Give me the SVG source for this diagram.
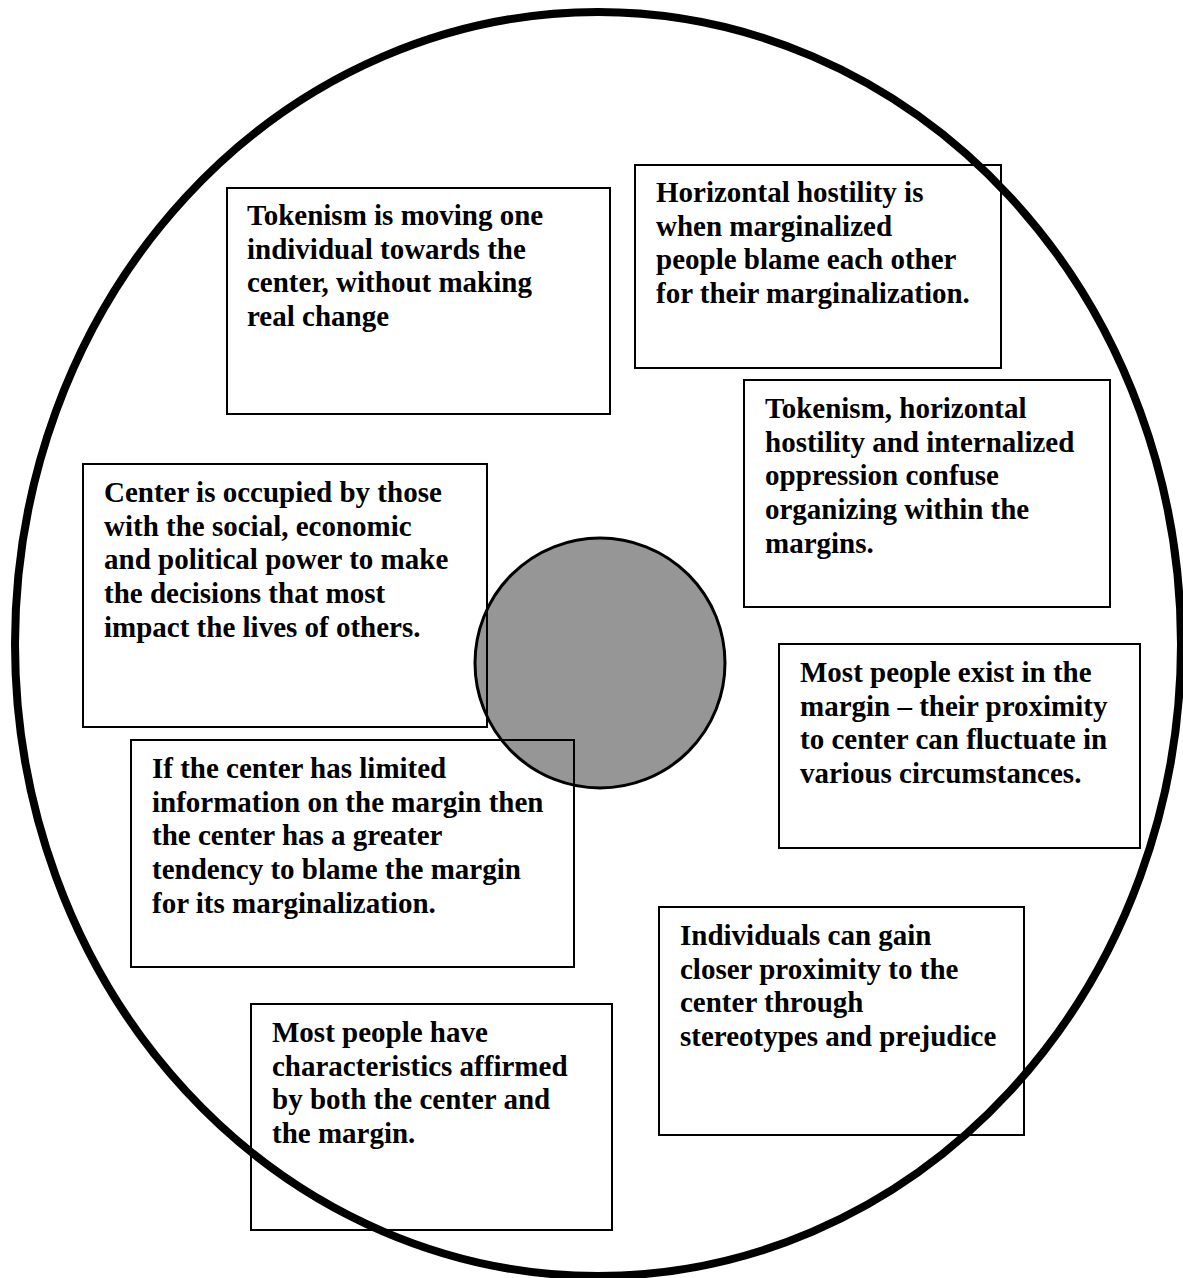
<svg xmlns="http://www.w3.org/2000/svg" width="1183" height="1278" viewBox="0 0 1183 1278">
<style>
.box{fill:none;stroke:#000;stroke-width:2}
.t{font-family:"Liberation Serif","Times New Roman",serif;font-weight:bold;font-size:29px;fill:#000}
</style>
<rect width="1183" height="1278" fill="#fff"/>
<g id="outer">
<ellipse cx="598" cy="644" rx="583" ry="632" fill="none" stroke="#000" stroke-width="8"/>
</g>
<g id="center">
<circle cx="600" cy="663" r="125" fill="#969696" stroke="#000" stroke-width="3"/>
</g>
<g id="connectors"></g>
<g id="n1">
<rect class="box" x="227" y="188" width="383" height="226"/>
<text class="t" x="247" y="225"><tspan x="247">Tokenism is moving one</tspan><tspan x="247" dy="33.7">individual towards the</tspan><tspan x="247" dy="33.7">center, without making</tspan><tspan x="247" dy="33.7">real change</tspan></text>
</g>
<g id="n2">
<rect class="box" x="635" y="165" width="366" height="203"/>
<text class="t" x="656" y="202"><tspan x="656">Horizontal hostility is</tspan><tspan x="656" dy="33.7">when marginalized</tspan><tspan x="656" dy="33.7">people blame each other</tspan><tspan x="656" dy="33.7">for their marginalization.</tspan></text>
</g>
<g id="n3">
<rect class="box" x="744" y="380" width="366" height="227"/>
<text class="t" x="765" y="418"><tspan x="765">Tokenism, horizontal</tspan><tspan x="765" dy="33.7">hostility and internalized</tspan><tspan x="765" dy="33.7">oppression confuse</tspan><tspan x="765" dy="33.7">organizing within the</tspan><tspan x="765" dy="33.7">margins.</tspan></text>
</g>
<g id="n4">
<rect class="box" x="83" y="464" width="404" height="263"/>
<text class="t" x="104" y="502"><tspan x="104">Center is occupied by those</tspan><tspan x="104" dy="33.7">with the social, economic</tspan><tspan x="104" dy="33.7">and political power to make</tspan><tspan x="104" dy="33.7">the decisions that most</tspan><tspan x="104" dy="33.7">impact the lives of others.</tspan></text>
</g>
<g id="n5">
<rect class="box" x="779" y="644" width="361" height="204"/>
<text class="t" x="800" y="682"><tspan x="800">Most people exist in the</tspan><tspan x="800" dy="33.7">margin – their proximity</tspan><tspan x="800" dy="33.7">to center can fluctuate in</tspan><tspan x="800" dy="33.7">various circumstances.</tspan></text>
</g>
<g id="n6">
<rect class="box" x="131" y="740" width="443" height="227"/>
<text class="t" x="152" y="778"><tspan x="152">If the center has limited</tspan><tspan x="152" dy="33.7">information on the margin then</tspan><tspan x="152" dy="33.7">the center has a greater</tspan><tspan x="152" dy="33.7">tendency to blame the margin</tspan><tspan x="152" dy="33.7">for its marginalization.</tspan></text>
</g>
<g id="n7">
<rect class="box" x="659" y="907" width="365" height="228"/>
<text class="t" x="680" y="945"><tspan x="680">Individuals can gain</tspan><tspan x="680" dy="33.7">closer proximity to the</tspan><tspan x="680" dy="33.7">center through</tspan><tspan x="680" dy="33.7">stereotypes and prejudice</tspan></text>
</g>
<g id="n8">
<rect class="box" x="251" y="1004" width="361" height="226"/>
<text class="t" x="272" y="1042"><tspan x="272">Most people have</tspan><tspan x="272" dy="33.7">characteristics affirmed</tspan><tspan x="272" dy="33.7">by both the center and</tspan><tspan x="272" dy="33.7">the margin.</tspan></text>
</g>
</svg>
